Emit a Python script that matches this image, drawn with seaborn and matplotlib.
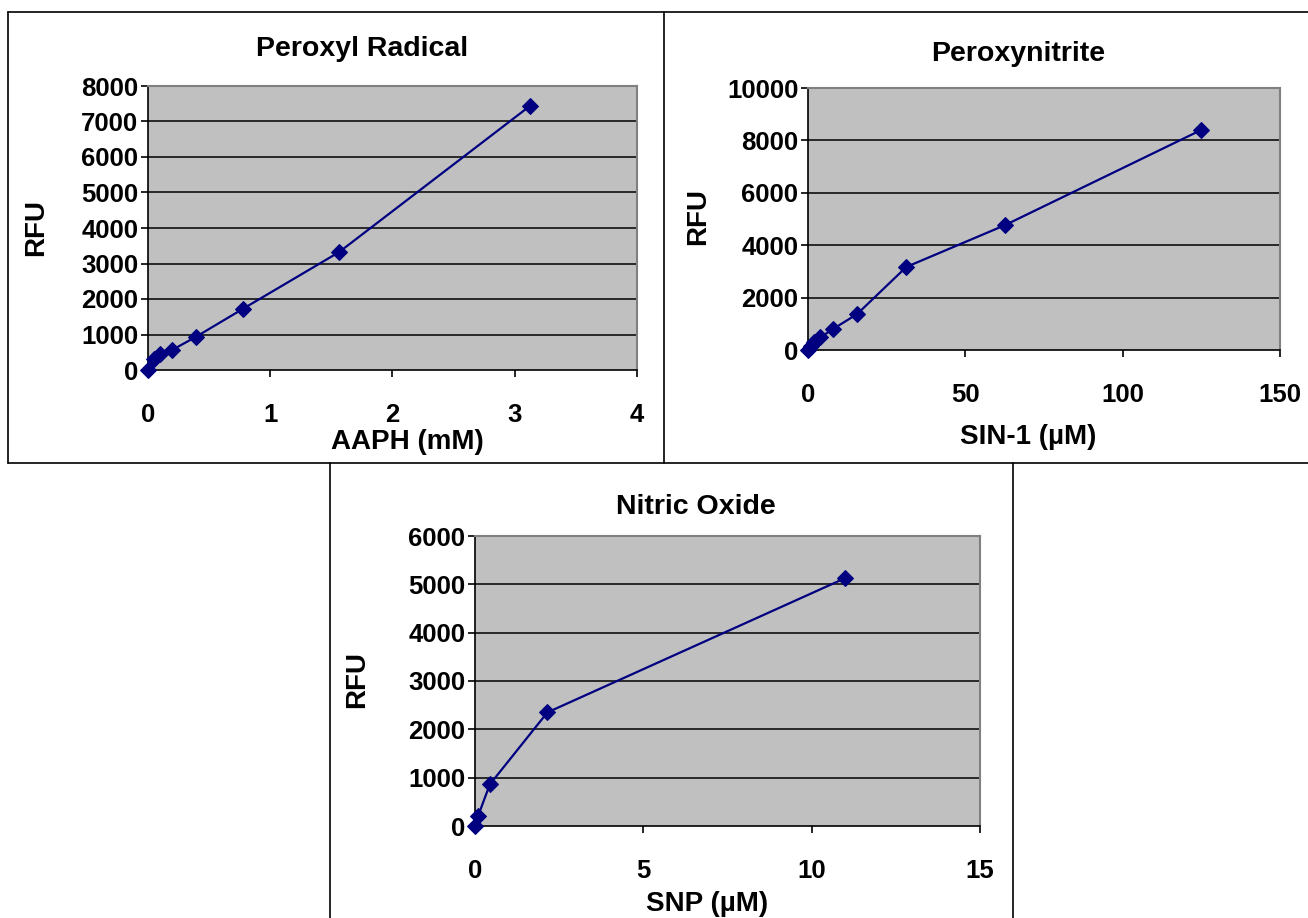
import numpy as np
import pandas as pd
import matplotlib
matplotlib.use('Agg')
import matplotlib.pyplot as plt
import seaborn as sns
from matplotlib.lines import Line2D

# данные
aaph_mm = [0, 0.049, 0.098, 0.195, 0.39, 0.78, 1.5625, 3.125]
aaph_rfu = [0, 310, 440, 560, 930, 1730, 3320, 7440]

sin1_um = [0, 0.98, 1.95, 3.9, 7.8, 15.6, 31.25, 62.5, 125]
sin1_rfu = [0, 160, 320, 480, 790, 1370, 3170, 4760, 8400]

snp_um = [0, 0.088, 0.44, 2.15, 11]
snp_rfu = [0, 200, 860, 2350, 5130]

titles = ['Peroxyl Radical', 'Peroxynitrite', 'Nitric Oxide']
xlabels = ['AAPH (mM)', 'SIN-1 (µM)', 'SNP (µM)']

sns.set_style('white')
plt.rcParams['font.family'] = ['Liberation Sans', 'DejaVu Sans']
plt.rcParams['font.weight'] = 'bold'
plt.rcParams['text.color'] = 'black'
plt.rcParams['axes.labelcolor'] = 'black'
plt.rcParams['xtick.color'] = 'black'
plt.rcParams['ytick.color'] = 'black'

fig = plt.figure(figsize=(13.08, 9.18), dpi=100)
W, H = 1308, 918


def px_axes(x0, y0, x1, y1):
    return fig.add_axes([x0 / W, 1 - y1 / H, (x1 - x0) / W, (y1 - y0) / H])


panels = [
    dict(pos=(148, 86, 637, 370), x=aaph_mm, y=aaph_rfu, xlim=(0, 4), xstep=1,
         ylim=(0, 8000), ystep=1000,
         title_xy=(0.438, 1.13), xl_xy=(0.53, -0.255), yl_xy=(-0.229, 0.502)),
    dict(pos=(808, 88, 1280, 350), x=sin1_um, y=sin1_rfu, xlim=(0, 150), xstep=50,
         ylim=(0, 10000), ystep=2000,
         title_xy=(0.445, 1.13), xl_xy=(0.466, -0.333), yl_xy=(-0.233, 0.51)),
    dict(pos=(475, 536, 980, 826), x=snp_um, y=snp_rfu, xlim=(0, 15), xstep=5,
         ylim=(0, 6000), ystep=1000,
         title_xy=(0.437, 1.10), xl_xy=(0.46, -0.268), yl_xy=(-0.234, 0.505)),
]

for p, title, xl in zip(panels, titles, xlabels):
    ax = px_axes(*p['pos'])
    df = pd.DataFrame({'x': p['x'], 'y': p['y']})
    sns.lineplot(data=df, x='x', y='y', ax=ax, color='#000080', marker='D',
                 markersize=8.5, markeredgecolor='#000080', linewidth=1.6,
                 clip_on=False, zorder=5)
    ax.set_facecolor('#c0c0c0')
    ax.set_xlim(*p['xlim'])
    ax.set_ylim(*p['ylim'])
    ax.set_xticks(np.arange(p['xlim'][0], p['xlim'][1] + p['xstep'] / 2, p['xstep']))
    ax.set_yticks(np.arange(p['ylim'][0], p['ylim'][1] + p['ystep'] / 2, p['ystep']))
    for yv in ax.get_yticks()[1:-1]:
        ax.axhline(yv, color='black', linewidth=1.1, zorder=1)
    for side in ['top', 'right']:
        ax.spines[side].set_color('#808080')
        ax.spines[side].set_linewidth(1.5)
    for side in ['left', 'bottom']:
        ax.spines[side].set_color('black')
        ax.spines[side].set_linewidth(1.2)
    ax.tick_params(axis='x', direction='out', length=5, width=1.2, pad=19,
                   labelsize=18.5, bottom=True)
    ax.tick_params(axis='y', direction='out', length=5, width=1.2, pad=2,
                   labelsize=18.5, left=True)
    for lab in ax.get_xticklabels() + ax.get_yticklabels():
        lab.set_fontweight('bold')
    ax.set_xlabel(xl, fontsize=20, fontweight='bold', va='center')
    ax.xaxis.set_label_coords(*p['xl_xy'])
    ax.set_ylabel('RFU', fontsize=20, fontweight='bold', va='center')
    ax.yaxis.set_label_coords(*p['yl_xy'])
    ax.text(p['title_xy'][0], p['title_xy'][1], title, transform=ax.transAxes,
            ha='center', va='center', fontsize=20.5, fontweight='bold')

# рамки вокруг панелей
frame = [
    ((8, 1308), (12, 12)),
    ((8, 8), (12, 463)),
    ((664, 664), (12, 463)),
    ((8, 1308), (463, 463)),
    ((330, 330), (463, 918)),
    ((1013, 1013), (463, 918)),
]
for xs, ys in frame:
    fig.add_artist(Line2D([x / W for x in xs], [1 - y / H for y in ys],
                          color='black', linewidth=1.2))

plt.savefig('out.png', dpi=100)
